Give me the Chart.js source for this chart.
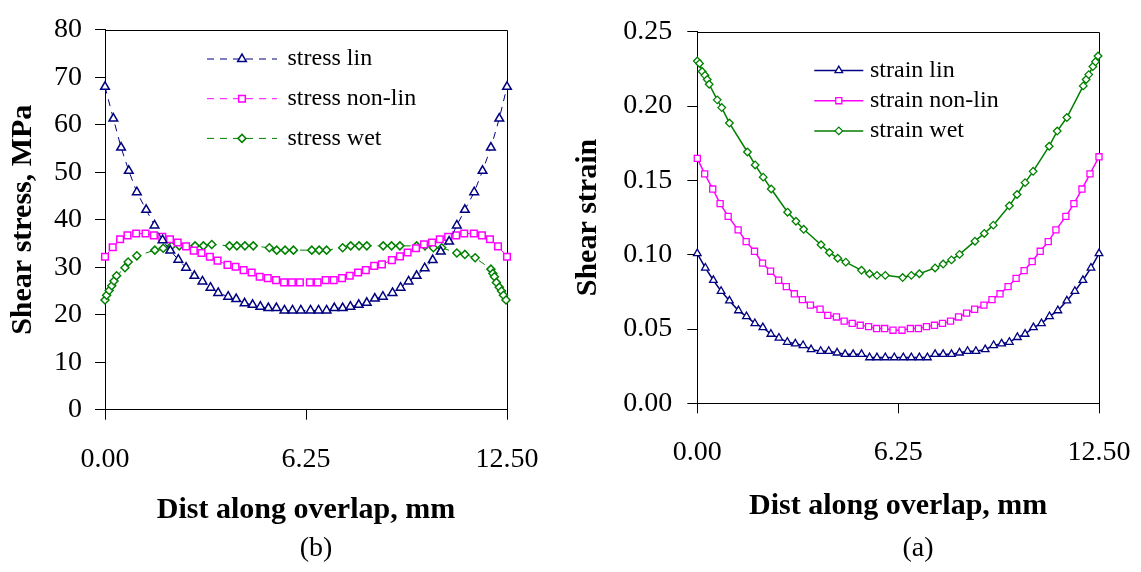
<!DOCTYPE html>
<html>
<head>
<meta charset="utf-8">
<script src="https://cdn.jsdelivr.net/npm/chart.js@4"></script>
<style>
  html, body { margin: 0; padding: 0; background: #fff; }
  #wrap { position: relative; width: 1141px; height: 572px; overflow: hidden; }
  #left { position: absolute; left: 0; top: 0; }
  #right { position: absolute; left: 570px; top: 0; }
  .cap { position: absolute; font: 28px "Liberation Serif", serif; line-height: 28px;
         transform: translateX(-50%); white-space: nowrap; color: #000; }
</style>
</head>
<body>
<div id="wrap">
  <canvas id="left" width="570" height="572"></canvas>
  <canvas id="right" width="571" height="572"></canvas>
  <div class="cap" style="left:316px; top:533px">(b)</div>
  <div class="cap" style="left:918px; top:533px">(a)</div>
</div>
<script>
// x ticks shared by both panels
const xTicks = [0, 6.25, 12.5];

// (b) shear stress, MPa
const stressLinX = [0, 0.26, 0.5, 0.74, 0.99, 1.28, 1.54, 1.79, 2.03, 2.28, 2.52, 2.78, 3.03, 3.28, 3.52, 3.83, 4.08, 4.34, 4.59, 4.83, 5.08, 5.33, 5.58, 5.83, 6.09, 6.39, 6.64, 6.89, 7.13, 7.39, 7.63, 7.89, 8.14, 8.39, 8.64, 8.94, 9.19, 9.44, 9.69, 9.94, 10.19, 10.44, 10.7, 10.94, 11.19, 11.48, 11.74, 12.0, 12.26, 12.5];
const stressLinY = [68.0, 61.3, 55.2, 50.3, 45.8, 42.1, 38.8, 35.7, 33.5, 31.6, 29.9, 28.2, 27.0, 25.7, 24.6, 23.8, 23.3, 22.4, 22.1, 21.7, 21.4, 21.4, 20.9, 20.9, 20.9, 20.9, 20.9, 20.9, 21.4, 21.4, 21.7, 22.1, 22.5, 23.4, 23.8, 24.6, 25.7, 27.0, 28.2, 29.8, 31.5, 33.3, 35.4, 38.8, 42.1, 45.8, 50.3, 55.2, 61.3, 68.0];

const stressNonX = [0, 0.24, 0.47, 0.7, 0.97, 1.26, 1.52, 1.78, 2.02, 2.26, 2.52, 2.76, 3.0, 3.26, 3.5, 3.81, 4.06, 4.31, 4.56, 4.81, 5.06, 5.32, 5.57, 5.81, 6.06, 6.37, 6.61, 6.86, 7.11, 7.37, 7.61, 7.87, 8.11, 8.37, 8.61, 8.92, 9.17, 9.41, 9.67, 9.92, 10.17, 10.41, 10.67, 10.92, 11.17, 11.47, 11.72, 11.97, 12.22, 12.5];
const stressNonY = [32.2, 34.2, 35.9, 36.7, 37.1, 37.1, 36.7, 36.4, 35.9, 35.2, 34.4, 33.5, 33.0, 32.2, 31.4, 30.5, 30.1, 29.4, 28.9, 28.0, 27.7, 27.3, 26.8, 26.8, 26.8, 26.8, 26.8, 27.3, 27.3, 27.7, 28.2, 28.9, 29.4, 30.3, 30.6, 31.5, 32.3, 33.1, 34.0, 34.8, 35.2, 35.9, 36.4, 36.7, 37.1, 37.1, 36.7, 35.9, 34.4, 32.2];

const stressWetX = [0, 0.05, 0.13, 0.21, 0.28, 0.36, 0.62, 0.72, 0.99, 1.55, 1.81, 2.07, 2.31, 2.80, 3.06, 3.32, 3.87, 4.10, 4.35, 4.61, 5.11, 5.34, 5.60, 5.86, 6.43, 6.66, 6.89, 7.39, 7.64, 7.90, 8.14, 8.65, 8.91, 9.17, 9.69, 9.95, 10.21, 10.47, 10.94, 11.19, 11.51, 12.0, 12.06, 12.11, 12.17, 12.26, 12.33, 12.39, 12.47];
const stressWetY = [23.1, 24.1, 25.1, 26.1, 27.1, 28.2, 29.9, 31.1, 32.4, 33.6, 34.0, 34.5, 34.5, 34.5, 34.5, 34.8, 34.5, 34.5, 34.5, 34.5, 34.1, 33.6, 33.6, 33.6, 33.6, 33.6, 33.6, 34.1, 34.5, 34.5, 34.5, 34.5, 34.5, 34.5, 34.5, 34.5, 34.1, 34.1, 33.0, 32.7, 32.0, 29.6, 28.7, 28.0, 26.8, 25.8, 25.0, 24.1, 23.1];

// (a) shear strain
const strainLinX = [0, 0.25, 0.5, 0.74, 1.0, 1.28, 1.53, 1.79, 2.04, 2.29, 2.54, 2.80, 3.05, 3.29, 3.54, 3.84, 4.09, 4.35, 4.6, 4.85, 5.11, 5.36, 5.59, 5.85, 6.13, 6.41, 6.66, 6.91, 7.16, 7.40, 7.65, 7.91, 8.16, 8.41, 8.67, 8.96, 9.22, 9.47, 9.71, 9.96, 10.2, 10.46, 10.71, 10.96, 11.22, 11.5, 11.75, 12.0, 12.25, 12.5];
const strainLinY = [0.1008, 0.0911, 0.0828, 0.0755, 0.0690, 0.0624, 0.0585, 0.0538, 0.0510, 0.0466, 0.0440, 0.0412, 0.0401, 0.0390, 0.0362, 0.0351, 0.0351, 0.0340, 0.0330, 0.0330, 0.0330, 0.0308, 0.0308, 0.0308, 0.0308, 0.0308, 0.0308, 0.0308, 0.0308, 0.0330, 0.0330, 0.0330, 0.0340, 0.0351, 0.0351, 0.0362, 0.0390, 0.0401, 0.0412, 0.0444, 0.0466, 0.0510, 0.0538, 0.0585, 0.0624, 0.0690, 0.0755, 0.0828, 0.0911, 0.1008];

const strainNonX = [0, 0.23, 0.48, 0.71, 0.96, 1.27, 1.52, 1.78, 2.03, 2.28, 2.53, 2.77, 3.02, 3.27, 3.52, 3.82, 4.06, 4.33, 4.57, 4.82, 5.07, 5.33, 5.58, 5.83, 6.09, 6.37, 6.63, 6.88, 7.13, 7.38, 7.63, 7.88, 8.13, 8.38, 8.63, 8.92, 9.17, 9.42, 9.67, 9.92, 10.17, 10.42, 10.67, 10.92, 11.16, 11.47, 11.72, 11.97, 12.22, 12.5];
const strainNonY = [0.1648, 0.1544, 0.1442, 0.1344, 0.1258, 0.1167, 0.1088, 0.1023, 0.0943, 0.0889, 0.0828, 0.0785, 0.0737, 0.0698, 0.0661, 0.0633, 0.0592, 0.0581, 0.0553, 0.0538, 0.0525, 0.0516, 0.0503, 0.0503, 0.0492, 0.0492, 0.0503, 0.0503, 0.0516, 0.0525, 0.0538, 0.0553, 0.0581, 0.0607, 0.0633, 0.0661, 0.0698, 0.0737, 0.0785, 0.0841, 0.0893, 0.0954, 0.1023, 0.1088, 0.1167, 0.1258, 0.1344, 0.1442, 0.1544, 0.1659];

const strainWetX = [0, 0.07, 0.15, 0.24, 0.31, 0.37, 0.62, 0.76, 1.0, 1.56, 1.8, 2.05, 2.3, 2.81, 3.07, 3.31, 3.85, 4.11, 4.37, 4.62, 5.11, 5.36, 5.59, 5.85, 6.39, 6.66, 6.91, 7.40, 7.65, 7.91, 8.16, 8.64, 8.93, 9.21, 9.71, 9.95, 10.2, 10.45, 10.95, 11.2, 11.5, 12.01, 12.1, 12.18, 12.31, 12.39, 12.47];
const strainWetY = [0.2303, 0.2287, 0.2233, 0.2207, 0.2179, 0.2147, 0.2042, 0.1990, 0.1886, 0.1691, 0.1604, 0.1522, 0.1442, 0.1286, 0.1225, 0.1171, 0.1067, 0.1015, 0.0976, 0.0950, 0.0895, 0.0872, 0.0861, 0.0861, 0.0846, 0.0861, 0.0872, 0.0911, 0.0937, 0.0965, 0.1002, 0.1091, 0.1143, 0.1199, 0.1329, 0.1405, 0.1485, 0.1561, 0.1730, 0.1832, 0.1923, 0.2136, 0.2179, 0.2212, 0.2266, 0.2298, 0.2337];

const NAVY = '#000080', MAGENTA = '#FF00FF', GREEN = '#008000';
const SERIF = '"Liberation Serif", "Times New Roman", serif';

Chart.defaults.font.family = SERIF;
Chart.defaults.color = '#000';

function pts(xs, ys) {
  return xs.map((x, i) => ({ x: x, y: ys[i] }));
}

function series(label, xs, ys, color, style, radius, dashed) {
  return {
    label: label,
    data: pts(xs, ys),
    showLine: true,
    borderColor: color,
    borderWidth: dashed ? 1 : 1.5,
    borderDash: dashed ? [7, 6] : [],
    pointStyle: style,
    pointRadius: radius,
    pointHoverRadius: radius,
    pointBorderColor: color,
    pointBackgroundColor: '#fff',
    pointBorderWidth: dashed ? 1.5 : 1.3,
    tension: 0,
    clip: false
  };
}

// box round the plot (top and right edges)
const frame = {
  id: 'frame',
  beforeDatasetsDraw(chart) {
    const { ctx, chartArea: a } = chart;
    ctx.save();
    ctx.strokeStyle = '#000';
    ctx.lineWidth = 1;
    ctx.beginPath();
    ctx.moveTo(a.left, Math.round(a.top) + 0.5);
    ctx.lineTo(Math.round(a.right) + 0.5, Math.round(a.top) + 0.5);
    ctx.lineTo(Math.round(a.right) + 0.5, a.bottom);
    ctx.stroke();
    ctx.restore();
  }
};

// legend inside the plot, as in the original figure
const innerLegend = {
  id: 'innerLegend',
  afterDraw(chart, args, o) {
    const ctx = chart.ctx;
    chart.data.datasets.forEach((ds, i) => {
      const y = o.top + i * o.gap;
      ctx.save();
      ctx.strokeStyle = ds.borderColor;
      ctx.lineWidth = ds.borderWidth;
      ctx.setLineDash(ds.borderDash);
      ctx.beginPath();
      ctx.moveTo(o.x0, y);
      ctx.lineTo(o.x1, y);
      ctx.stroke();
      ctx.setLineDash([]);
      ctx.strokeStyle = ds.pointBorderColor;
      ctx.fillStyle = ds.pointBackgroundColor;
      ctx.lineWidth = ds.pointBorderWidth;
      Chart.helpers.drawPoint(ctx, { pointStyle: ds.pointStyle, radius: ds.pointRadius, rotation: 0, borderWidth: ds.pointBorderWidth }, (o.x0 + o.x1) / 2, y);
      ctx.fillStyle = '#000';
      ctx.font = o.size + 'px ' + SERIF;
      ctx.textBaseline = 'middle';
      ctx.textAlign = 'left';
      ctx.fillText(ds.label, o.textX, y);
      ctx.restore();
    });
  }
};

function makeChart(id, p) {
  return new Chart(document.getElementById(id), {
    type: 'scatter',
    data: { datasets: p.datasets },
    plugins: [frame, innerLegend],
    options: {
      responsive: false,
      animation: false,
      devicePixelRatio: 1,
      layout: { padding: p.padding },
      plugins: {
        legend: { display: false },
        tooltip: { enabled: false },
        innerLegend: p.legend
      },
      scales: {
        x: {
          type: 'linear',
          min: 0,
          max: 12.5,
          afterBuildTicks: s => { s.ticks = xTicks.map(v => ({ value: v })); },
          // fixed height; the end labels only need half their width beside the plot
          afterFit: s => { s.height = p.xHeight; s.paddingLeft = 32; s.paddingRight = 32; },
          ticks: { callback: v => Number(v).toFixed(2), font: { size: 28 }, padding: p.xPad, maxRotation: 0, autoSkip: false },
          grid: { drawOnChartArea: false, tickLength: 10, color: '#000' },
          border: { color: '#000', width: 1 },
          title: { display: true, text: 'Dist along overlap, mm', font: { size: 30, weight: 'bold' }, padding: { top: 0, bottom: p.xTitlePad } }
        },
        y: {
          min: 0,
          max: p.yMax,
          afterFit: s => { s.width = p.yWidth; },
          ticks: { stepSize: p.yStep, callback: p.yFmt, font: { size: 28 }, padding: p.yPad },
          grid: { drawOnChartArea: false, tickLength: 10, color: '#000' },
          border: { color: '#000', width: 1 },
          title: { display: true, text: p.yTitle, font: { size: 30, weight: 'bold' }, padding: { top: p.yTitlePad, bottom: 0 } }
        }
      }
    }
  });
}

makeChart('left', {
  datasets: [
    series('stress lin', stressLinX, stressLinY, NAVY, 'triangle', 5, true),
    series('stress non-lin', stressNonX, stressNonY, MAGENTA, 'rect', 4.7, true),
    series('stress wet', stressWetX, stressWetY, GREEN, 'rectRot', 4, true)
  ],
  padding: { top: 17.7, right: 63, bottom: 40, left: 0 },
  xHeight: 122.3, xPad: 23, xTitlePad: 3.3,
  yWidth: 105, yPad: 13, yTitlePad: 5,
  yMax: 80, yStep: 10, yFmt: v => String(Math.round(v)),
  yTitle: 'Shear stress, MPa',
  legend: { x0: 207, x1: 277, textX: 287.5, top: 59, gap: 39.7, size: 24 }
});

makeChart('right', {
  datasets: [
    series('strain lin', strainLinX, strainLinY, NAVY, 'triangle', 4.4, false),
    series('strain non-lin', strainNonX, strainNonY, MAGENTA, 'rect', 4.3, false),
    series('strain wet', strainWetX, strainWetY, GREEN, 'rectRot', 3.8, false)
  ],
  padding: { top: 19, right: 42, bottom: 40, left: 0 },
  xHeight: 128.7, xPad: 22.5, xTitlePad: 7.3,
  yWidth: 127.3, yPad: 15, yTitlePad: 0,
  yMax: 0.25, yStep: 0.05, yFmt: v => Number(v).toFixed(2),
  yTitle: 'Shear strain',
  legend: { x0: 244.3, x1: 293.3, textX: 300, top: 70.5, gap: 30.2, size: 24 }
});
</script>
</body>
</html>
